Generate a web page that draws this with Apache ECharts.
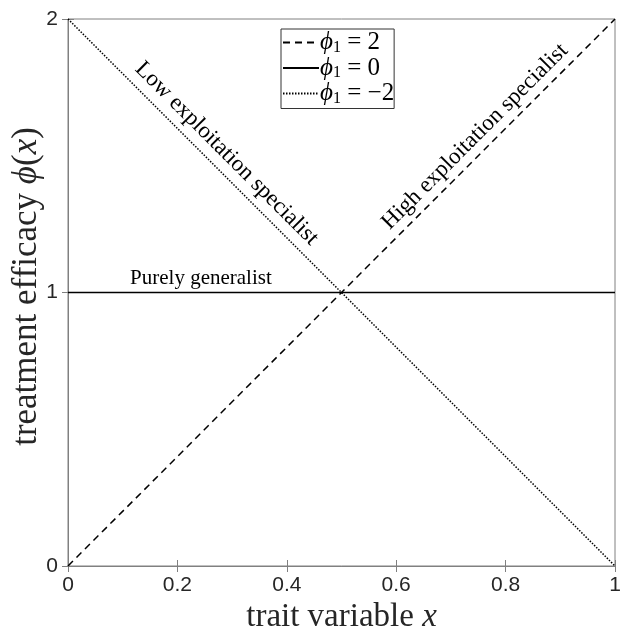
<!DOCTYPE html>
<html><head><meta charset="utf-8">
<script src="https://cdn.jsdelivr.net/npm/echarts@6/dist/echarts.min.js"></script>
<style>html,body{margin:0;padding:0;background:#fff}#c{width:620px;height:630px}</style>
</head><body><div id="c"></div>
<script>
const xTicks = [0, 0.2, 0.4, 0.6, 0.8, 1];
const yTicks = [0, 1, 2];
const seriesNames = ['2', '0', '\u22122'];
const seriesX = [0, 1];
const phi2 = [0, 2];
const phi0 = [1, 1];
const phiM2 = [2, 0];
const annotations = [
  {text: 'Low exploitation specialist', x: 0.290, y: 1.508, rot: -45, size: 23},
  {text: 'High exploitation specialist', x: 0.744, y: 1.570, rot: 45, size: 23},
  {text: 'Purely generalist', x: 0.243, y: 1.053, rot: 0, size: 21}
];

const chart = echarts.init(document.getElementById('c'));
const vals = [phi2, phi0, phiM2];
const axisCol = '#808080';
const txtCol = '#262626';
const sans = 'Liberation Sans, Arial, sans-serif';
const serif = 'Liberation Serif, Times New Roman, serif';
const legRich = {
  i: {fontFamily: serif, fontStyle: 'italic', fontSize: 25, color: '#000'},
  s: {fontFamily: serif, fontSize: 16, color: '#000', padding: [10, 0, 0, 0]},
  n: {fontFamily: serif, fontSize: 25, color: '#000'}
};
const dashPatterns = [[7, 5], 'solid', [1.5, 1.5]];
const series = vals.map((v, k) => ({
  name: seriesNames[k],
  type: 'line',
  data: seriesX.map((x, j) => [x, v[j]]),
  symbol: 'none',
  lineStyle: {color: '#000', width: 1.5, type: dashPatterns[k]},
  itemStyle: {color: '#000'},
  silent: true,
  z: 3
}));
const nameRich = size => ({
  n: {fontFamily: serif, fontSize: size, color: txtCol},
  i: {fontFamily: serif, fontStyle: 'italic', fontSize: size, color: txtCol}
});
chart.setOption({
  animation: false,
  grid: {left: 68, right: 5, top: 19, bottom: 64, show: true, borderColor: axisCol, borderWidth: 1, outerBoundsMode: 'none', containLabel: false},
  legend: {
    show: true, orient: 'vertical', left: 281, top: 29,
    backgroundColor: '#fff', borderColor: '#333', borderWidth: 1,
    padding: [1, 0, 2, 1], itemGap: 0, itemWidth: 36, itemHeight: 25,
    data: seriesNames,
    formatter: n => '{i|\u03d5}{s|1}{n| = ' + n + '}',
    textStyle: {rich: legRich, padding: [0, 0, 0, -4], lineHeight: 25},
    itemStyle: {opacity: 0},
    selectedMode: false
  },
  xAxis: [{
    type: 'value', min: 0, max: 1, interval: 0.2,
    axisLine: {show: true, lineStyle: {color: axisCol}},
    axisTick: {inside: true, length: 6, lineStyle: {color: axisCol}},
    splitLine: {show: false},
    axisLabel: {color: txtCol, fontFamily: sans, fontSize: 21, margin: 9, formatter: v => String(+v.toFixed(1))},
    name: '{n|trait variable }{i|x}', nameLocation: 'middle', nameGap: 29,
    nameTextStyle: {rich: nameRich(33)}
  }, {
    type: 'value', min: 0, max: 1, interval: 0.2, position: 'top',
    axisLine: {show: true, lineStyle: {color: axisCol}},
    axisTick: {inside: true, length: 6, lineStyle: {color: axisCol}},
    splitLine: {show: false}, axisLabel: {show: false}
  }],
  yAxis: [{
    type: 'value', min: 0, max: 2, interval: 1,
    axisLine: {show: true, lineStyle: {color: axisCol}},
    axisTick: {inside: true, length: 6, lineStyle: {color: axisCol}},
    splitLine: {show: false},
    axisLabel: {color: txtCol, fontFamily: sans, fontSize: 21, margin: 10},
    name: '{n|treatment efficacy }{i|\u03d5}{n|(}{i|x}{n|)}', nameLocation: 'middle', nameGap: 24,
    nameMoveOverlap: false,
    nameTextStyle: {rich: nameRich(35), padding: [0, 0, 0, 12]}
  }, {
    type: 'value', min: 0, max: 2, interval: 1, position: 'right',
    axisLine: {show: true, lineStyle: {color: axisCol}},
    axisTick: {inside: true, length: 6, lineStyle: {color: axisCol}},
    splitLine: {show: false}, axisLabel: {show: false}
  }],
  series: series
});
const g = annotations.map(a => {
  const p = chart.convertToPixel({xAxisIndex: 0, yAxisIndex: 0}, [a.x, a.y]);
  return {
    type: 'text', x: p[0], y: p[1], rotation: a.rot * Math.PI / 180,
    style: {text: a.text, fontFamily: serif, fontSize: a.size, fill: '#000', align: 'center', verticalAlign: 'middle'},
    z: 10
  };
});
chart.setOption({graphic: g});
</script></body></html>
